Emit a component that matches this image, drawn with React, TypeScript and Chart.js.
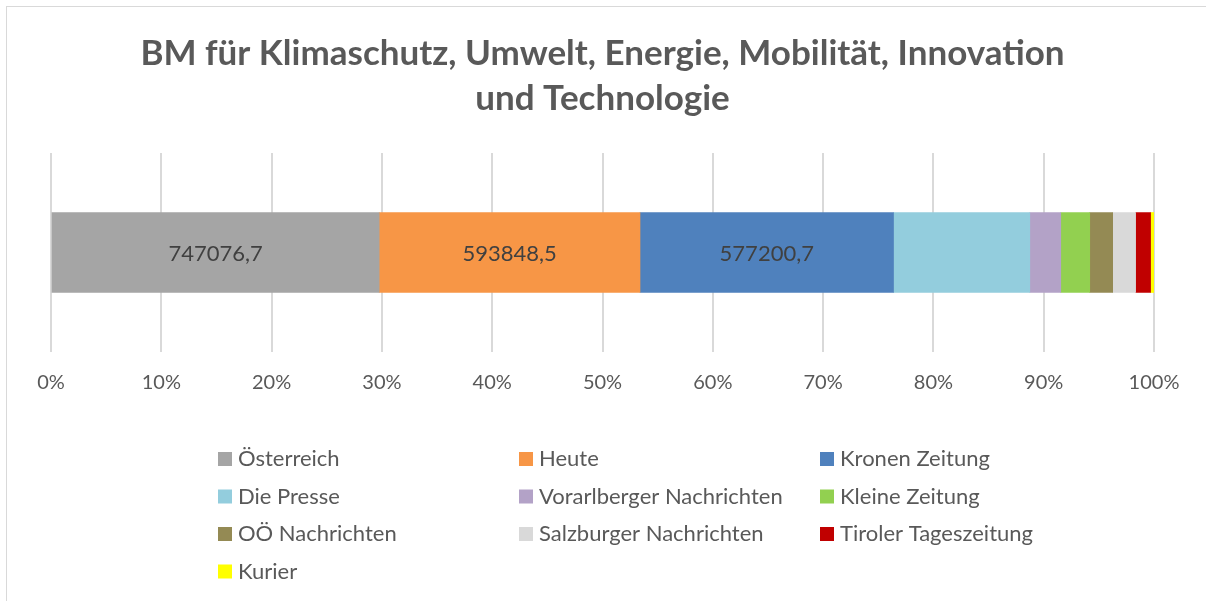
import React, { useEffect, useRef } from "react";
import { Chart, registerables } from "chart.js";

Chart.register(...registerables);

const categories = ["BM für Klimaschutz"];
const seriesNames = [
  "Österreich",
  "Heute",
  "Kronen Zeitung",
  "Die Presse",
  "Vorarlberger Nachrichten",
  "Kleine Zeitung",
  "OÖ Nachrichten",
  "Salzburger Nachrichten",
  "Tiroler Tageszeitung",
  "Kurier",
];
const seriesValues = [747076.7, 593848.5, 577200.7, 310200, 70500, 66000, 52200, 52200, 34100, 7800];
const seriesColors = [
  "#a5a5a5",
  "#f79646",
  "#4f81bd",
  "#93cddd",
  "#b3a2c7",
  "#92d050",
  "#948a54",
  "#d9d9d9",
  "#c00000",
  "#ffff00",
];
const labeledSeries = ["Österreich", "Heute", "Kronen Zeitung"];
const titleLines = ["BM für Klimaschutz, Umwelt, Energie, Mobilität, Innovation", "und Technologie"];
const tickValues = [0, 10, 20, 30, 40, 50, 60, 70, 80, 90, 100];

const FONT = "Lato, 'Open Sans', sans-serif";
const TEXT = "#595959";

function fmt(v: number): string {
  return String(v).replace(".", ",");
}

const borderPlugin = {
  id: "frame",
  beforeDraw(chart: any) {
    const ctx = chart.ctx;
    ctx.save();
    ctx.fillStyle = "#ffffff";
    ctx.fillRect(0, 0, chart.width, chart.height);
    ctx.strokeStyle = "#d9d9d9";
    ctx.lineWidth = 1;
    ctx.strokeRect(6.5, 6.5, chart.width + 100, chart.height + 100);
    ctx.restore();
  },
};

const labelPlugin = {
  id: "segLabels",
  afterDatasetsDraw(chart: any) {
    const ctx = chart.ctx;
    ctx.save();
    ctx.font = `22px ${FONT}`;
    ctx.fillStyle = "#404040";
    ctx.textAlign = "center";
    ctx.textBaseline = "middle";
    chart.data.datasets.forEach((ds: any, i: number) => {
      if (!labeledSeries.includes(ds.label)) return;
      const meta = chart.getDatasetMeta(i);
      meta.data.forEach((el: any, j: number) => {
        const p = el.getProps(["x", "y", "base"], true);
        ctx.fillText(fmt(ds.rawValues[j]), (p.x + p.base) / 2, p.y + 1);
      });
    });
    ctx.restore();
  },
};

const legendPlugin = {
  id: "gridLegend",
  afterDraw(chart: any) {
    const ctx = chart.ctx;
    const colX = [218, 519, 820];
    const rowY0 = 459;
    const rowH = 37.5;
    const box = 14;
    ctx.save();
    ctx.font = `22px ${FONT}`;
    ctx.textBaseline = "middle";
    ctx.textAlign = "left";
    chart.data.datasets.forEach((ds: any, i: number) => {
      const c = i % 3;
      const r = Math.floor(i / 3);
      const x = colX[c];
      const y = rowY0 + r * rowH;
      ctx.fillStyle = ds.backgroundColor;
      ctx.fillRect(x, y - box / 2, box, box);
      ctx.fillStyle = TEXT;
      ctx.fillText(ds.label, x + box + 6, y);
    });
    ctx.restore();
  },
};

export default function App() {
  const ref = useRef<HTMLCanvasElement | null>(null);

  useEffect(() => {
    document.body.style.margin = "0";
    if (!ref.current) return;
    const total = seriesValues.reduce((a, b) => a + b, 0);
    const chart = new Chart(ref.current, {
      type: "bar",
      data: {
        labels: categories,
        datasets: seriesNames.map((name, i) => ({
          label: name,
          data: [(seriesValues[i] / total) * 100],
          rawValues: [seriesValues[i]],
          backgroundColor: seriesColors[i],
          borderWidth: 0,
          barThickness: 80,
        })) as any,
      },
      options: {
        indexAxis: "y",
        responsive: false,
        animation: false,
        layout: { padding: { left: 51, right: 52, top: 0, bottom: 187 } },
        plugins: {
          legend: { display: false },
          tooltip: { enabled: false },
          title: {
            display: true,
            text: titleLines,
            color: TEXT,
            font: { family: FONT, size: 35, weight: "bold", lineHeight: 45 / 35 },
            padding: { top: 31, bottom: 32 },
          },
        },
        scales: {
          x: {
            stacked: true,
            min: 0,
            max: 100,
            afterBuildTicks(axis: any) {
              axis.ticks = tickValues.map((v) => ({ value: v }));
            },
            grid: { color: "#d9d9d9", lineWidth: 2, drawTicks: false },
            border: { display: false },
            ticks: {
              color: TEXT,
              font: { family: FONT, size: 20 },
              padding: 19,
              maxRotation: 0,
              autoSkip: false,
              callback: (v: any) => `${v}%`,
            },
          },
          y: {
            stacked: true,
            display: false,
            grid: { display: false },
          },
        },
      },
      plugins: [borderPlugin, labelPlugin, legendPlugin],
    });
    return () => chart.destroy();
  }, []);

  return (
    <div style={{ width: 1206, height: 601 }}>
      <canvas ref={ref} width={1206} height={601} style={{ display: "block" }} />
    </div>
  );
}
